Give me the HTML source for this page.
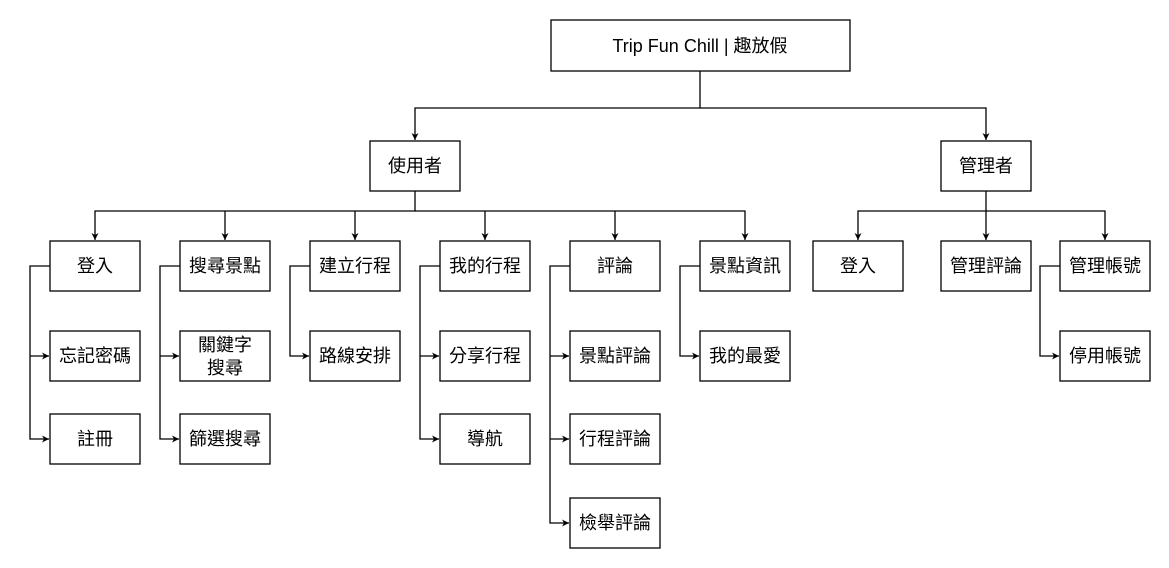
<!DOCTYPE html>
<html><head><meta charset="utf-8"><style>
body{margin:0;background:#fff;width:1169px;height:563px;overflow:hidden}
</style></head><body>
<svg width="1169" height="563" xmlns="http://www.w3.org/2000/svg" font-family="Liberation Sans, Noto Sans CJK TC, sans-serif" font-size="18">
<defs><marker id="a" markerWidth="8" markerHeight="8" refX="7" refY="4" orient="auto" markerUnits="userSpaceOnUse"><path d="M0,0.5 L7,4 L0,7.5 L2,4 z" fill="#000"/></marker></defs>
<g fill="none" stroke="#000" stroke-width="1.3">
<path d="M700,71 V108 H415 V140" marker-end="url(#a)"/>
<path d="M700,108 H986 V140" marker-end="url(#a)"/>
<path d="M415,191 V211 H95 V240" marker-end="url(#a)"/>
<path d="M225,211 V240" marker-end="url(#a)"/>
<path d="M355,211 V240" marker-end="url(#a)"/>
<path d="M485,211 V240" marker-end="url(#a)"/>
<path d="M615,211 V240" marker-end="url(#a)"/>
<path d="M415,211 H745 V240" marker-end="url(#a)"/>
<path d="M986,191 V240" marker-end="url(#a)"/>
<path d="M986,211 H858 V240" marker-end="url(#a)"/>
<path d="M986,211 H1105 V240" marker-end="url(#a)"/>
<path d="M50,266 H30 V439 H49" marker-end="url(#a)"/><path d="M30,356 H49" marker-end="url(#a)"/>
<path d="M180,266 H160 V439 H179" marker-end="url(#a)"/><path d="M160,356 H179" marker-end="url(#a)"/>
<path d="M310,266 H290 V356 H309" marker-end="url(#a)"/>
<path d="M440,266 H420 V439 H439" marker-end="url(#a)"/><path d="M420,356 H439" marker-end="url(#a)"/>
<path d="M570,266 H550 V523 H569" marker-end="url(#a)"/><path d="M550,356 H569" marker-end="url(#a)"/><path d="M550,439 H569" marker-end="url(#a)"/>
<path d="M700,266 H680 V356 H699" marker-end="url(#a)"/>
<path d="M1060,266 H1040 V356 H1059" marker-end="url(#a)"/>
</g>
<g fill="#fff" stroke="#000" stroke-width="1.3">
<rect x="551" y="20" width="299" height="51"/>
<rect x="370" y="141" width="90" height="50"/><rect x="941" y="141" width="90" height="50"/>
<rect x="50" y="241" width="90" height="50"/><rect x="180" y="241" width="90" height="50"/><rect x="310" y="241" width="90" height="50"/><rect x="440" y="241" width="90" height="50"/><rect x="570" y="241" width="90" height="50"/><rect x="700" y="241" width="90" height="50"/><rect x="813" y="241" width="90" height="50"/><rect x="941" y="241" width="90" height="50"/><rect x="1060" y="241" width="90" height="50"/>
<rect x="50" y="331" width="90" height="50"/><rect x="180" y="331" width="90" height="50"/><rect x="310" y="331" width="90" height="50"/><rect x="440" y="331" width="90" height="50"/><rect x="570" y="331" width="90" height="50"/><rect x="700" y="331" width="90" height="50"/><rect x="1060" y="331" width="90" height="50"/>
<rect x="50" y="414" width="90" height="50"/><rect x="180" y="414" width="90" height="50"/><rect x="440" y="414" width="90" height="50"/><rect x="570" y="414" width="90" height="50"/>
<rect x="570" y="498" width="90" height="50"/>
</g>
<g text-anchor="middle" fill="#000" dominant-baseline="central">
<text x="700" y="46">Trip Fun Chill | 趣放假</text>
<text x="415" y="166">使用者</text><text x="986" y="166">管理者</text>
<text x="95" y="266">登入</text><text x="225" y="266">搜尋景點</text><text x="355" y="266">建立行程</text><text x="485" y="266">我的行程</text><text x="615" y="266">評論</text><text x="745" y="266">景點資訊</text><text x="858" y="266">登入</text><text x="986" y="266">管理評論</text><text x="1105" y="266">管理帳號</text>
<text x="95" y="356">忘記密碼</text><text x="225" y="345">關鍵字</text><text x="225" y="368">搜尋</text><text x="355" y="356">路線安排</text><text x="485" y="356">分享行程</text><text x="615" y="356">景點評論</text><text x="745" y="356">我的最愛</text><text x="1105" y="356">停用帳號</text>
<text x="95" y="439">註冊</text><text x="225" y="439">篩選搜尋</text><text x="485" y="439">導航</text><text x="615" y="439">行程評論</text>
<text x="615" y="523">檢舉評論</text>
</g>
</svg>
</body></html>
